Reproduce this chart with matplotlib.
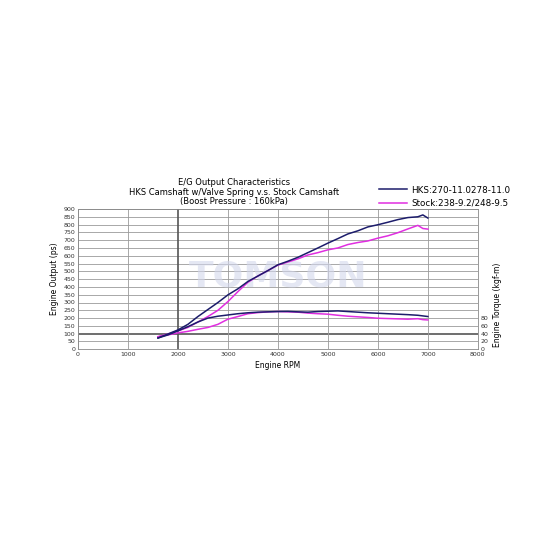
import matplotlib
matplotlib.use('Agg')
import matplotlib.pyplot as plt

# Engine speed (rpm)
rpm = [1600, 1800, 2000, 2200, 2400, 2600, 2800, 3000, 3200, 3400, 3600, 3800, 4000, 4200,
       4400, 4600, 4800, 5000, 5200, 5400, 5600, 5800, 6000, 6200, 6400, 6600, 6800, 6900, 7000]

# Engine output (ps)
hks_power = [72, 98, 124, 160, 210, 255, 300, 349, 388, 435, 470, 505, 542, 565,
             590, 620, 650, 681, 710, 740, 760, 785, 799, 815, 832, 845, 850, 862, 842]
stock_power = [80, 98, 118, 140, 175, 210, 250, 306, 370, 430, 470, 505, 540, 560,
               580, 605, 620, 638, 650, 672, 685, 695, 713, 728, 748, 772, 795, 775, 771]

# Engine torque, drawn on the output scale (ps)
hks_torque = [72, 92, 118, 145, 175, 200, 212, 220, 228, 234, 238, 240, 242, 243,
              240, 238, 242, 244, 246, 242, 238, 234, 231, 228, 225, 222, 218, 214, 210]
stock_torque = [80, 92, 105, 115, 128, 140, 160, 193, 210, 228, 235, 240, 242, 240,
                238, 232, 228, 225, 218, 212, 208, 204, 199, 197, 195, 193, 196, 190, 188]

navy = '#1c1c6b'
magenta = '#e02ee0'

fig = plt.figure(figsize=(5.5, 5.5), dpi=100)
ax = fig.add_axes([0.1418, 0.365, 0.727, 0.255])

# Grid
for y in range(0, 901, 50):
    ax.axhline(y, color='#555555' if y == 100 else '#9a9a9a', lw=1.2 if y == 100 else 0.6, zorder=0)
for x in range(0, 8001, 1000):
    ax.axvline(x, color='#555555' if x == 2000 else '#9a9a9a', lw=1.2 if x == 2000 else 0.6, zorder=0)

# Watermark
ax.text(4000, 470, 'TOMSON', ha='center', va='center', fontsize=26, fontweight='bold',
        color='#d3d7ec', alpha=0.6, zorder=1)

ax.plot(rpm, hks_power, color=navy, lw=1.1, zorder=3, label='HKS:270-11.0278-11.0')
ax.plot(rpm, stock_power, color=magenta, lw=1.1, zorder=2, label='Stock:238-9.2/248-9.5')
ax.plot(rpm, hks_torque, color=navy, lw=1.1, zorder=3)
ax.plot(rpm, stock_torque, color=magenta, lw=1.1, zorder=2)

ax.set_xlim(0, 8000)
ax.set_ylim(0, 900)
ax.set_xticks(range(0, 8001, 1000))
ax.set_yticks(range(0, 901, 50))
ax.tick_params(labelsize=4.5, length=0, pad=2, colors='#333333')
for s in ax.spines.values():
    s.set_color('#888888')
    s.set_linewidth(0.6)
ax.set_xlabel('Engine RPM', fontsize=5.5, labelpad=3)
ax.set_ylabel('Engine Output (ps)', fontsize=5.5, labelpad=3)

ax2 = ax.twinx()
ax2.set_ylim(0, 360)
ax2.set_yticks([0, 20, 40, 60, 80])
ax2.tick_params(labelsize=4.5, length=0, pad=2, colors='#333333')
for s in ax2.spines.values():
    s.set_visible(False)
fig.text(0.905, 0.445, 'Engine Torque (kgf-m)', rotation=90, fontsize=5.5,
         ha='center', va='center')

fig.text(0.425, 0.668, 'E/G Output Characteristics', fontsize=6, ha='center', va='center')
fig.text(0.425, 0.650, 'HKS Camshaft w/Valve Spring v.s. Stock Camshaft', fontsize=6,
         ha='center', va='center')
fig.text(0.425, 0.633, '(Boost Pressure : 160kPa)', fontsize=6, ha='center', va='center')

leg = fig.legend(loc='upper left', bbox_to_anchor=(0.675, 0.677), fontsize=6.3,
                 frameon=False, handlelength=3.2, labelspacing=0.5, handletextpad=0.5)

fig.savefig('out.png', dpi=100, facecolor='white')
